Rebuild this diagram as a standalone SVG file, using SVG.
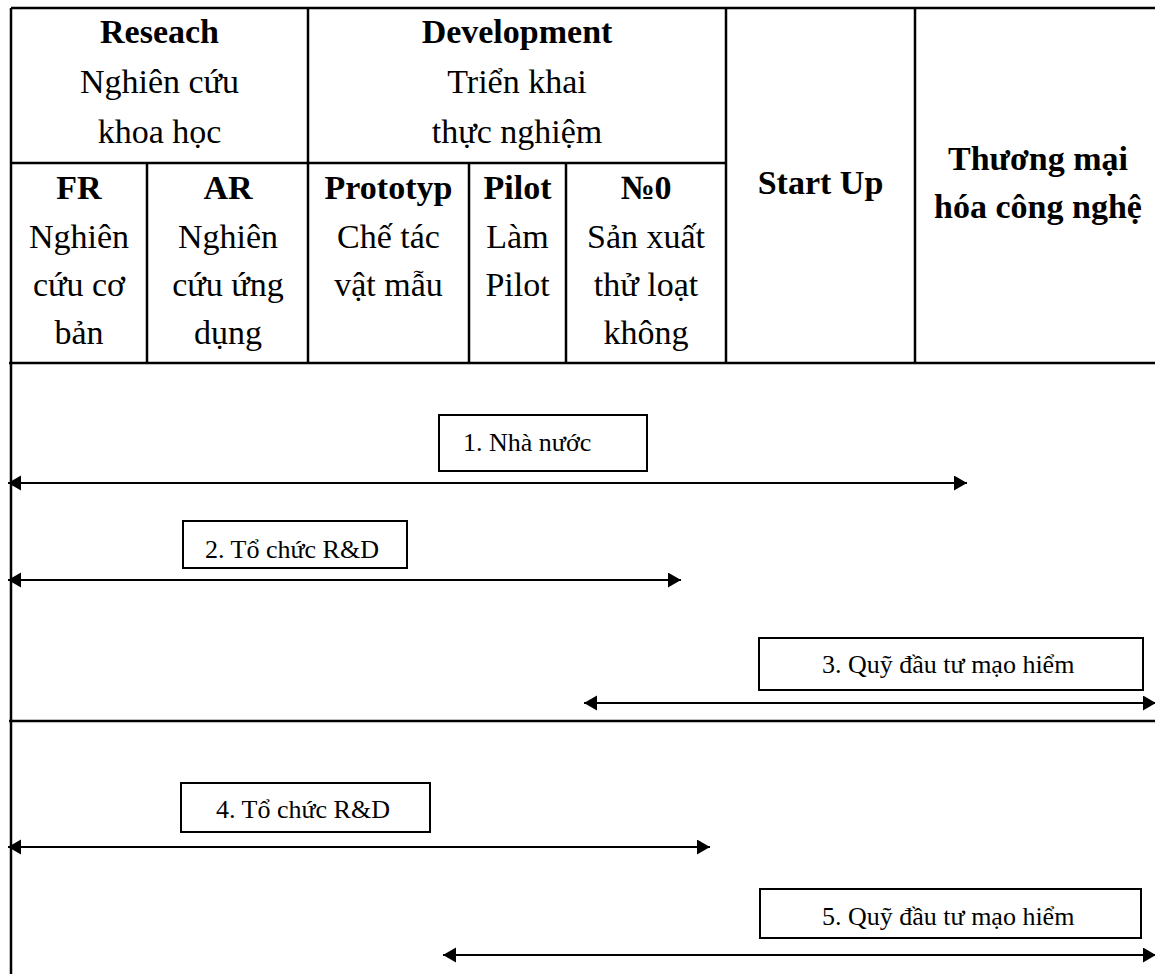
<svg xmlns="http://www.w3.org/2000/svg" width="1155" height="974" viewBox="0 0 1155 974">
<style>
.t{font-family:"Liberation Serif","Times New Roman",serif;font-size:34px;fill:#000;text-anchor:middle}
.b{font-weight:bold}
.s{font-family:"Liberation Serif","Times New Roman",serif;font-size:26px;fill:#000}
.g{stroke:#000;stroke-width:2.5;fill:none}
.box{stroke:#000;stroke-width:2;fill:#fff}
.ar{stroke:#000;stroke-width:2;fill:none;marker-start:url(#ah);marker-end:url(#ah)}
</style>
<defs>
<marker id="ah" markerUnits="userSpaceOnUse" markerWidth="14" markerHeight="16" refX="13" refY="7.5" orient="auto-start-reverse" viewBox="0 0 14 16">
<path d="M0,0 L13,7.5 L0,15 z" fill="#000"/>
</marker>
</defs>
<rect width="1155" height="974" fill="#fff"/>
<g id="grid">
<path class="g" d="M11,8 H1155 M11,8 V974 M11,163 H726 M9,363 H1155 M9,721 H1155 M147,163 V363 M308,8 V363 M469,163 V363 M566,163 V363 M726,8 V363 M915,8 V363"/>
</g>
<g id="research">
<text class="t b" x="159.5" y="43">Reseach</text>
<text class="t" x="159.5" y="93">Nghiên cứu</text>
<text class="t" x="159.5" y="143">khoa học</text>
</g>
<g id="development">
<text class="t b" x="517" y="43">Development</text>
<text class="t" x="517" y="93">Triển khai</text>
<text class="t" x="517" y="143">thực nghiệm</text>
</g>
<g id="fr">
<text class="t b" x="79" y="199">FR</text>
<text class="t" x="79" y="248">Nghiên</text>
<text class="t" x="79" y="296">cứu cơ</text>
<text class="t" x="79" y="344">bản</text>
</g>
<g id="ar">
<text class="t b" x="228" y="199">AR</text>
<text class="t" x="228" y="248">Nghiên</text>
<text class="t" x="228" y="296">cứu ứng</text>
<text class="t" x="228" y="344">dụng</text>
</g>
<g id="prototyp">
<text class="t b" x="388.5" y="199">Prototyp</text>
<text class="t" x="388.5" y="248">Chế tác</text>
<text class="t" x="388.5" y="296">vật mẫu</text>
</g>
<g id="pilot">
<text class="t b" x="517.5" y="199">Pilot</text>
<text class="t" x="517.5" y="248">Làm</text>
<text class="t" x="517.5" y="296">Pilot</text>
</g>
<g id="no0">
<text class="t b" x="646" y="199">№0</text>
<text class="t" x="646" y="248">Sản xuất</text>
<text class="t" x="646" y="296">thử loạt</text>
<text class="t" x="646" y="344">không</text>
</g>
<g id="startup">
<text class="t b" x="820.5" y="194">Start Up</text>
</g>
<g id="thuongmai">
<text class="t b" x="1038" y="170">Thương mại</text>
<text class="t b" x="1038" y="218">hóa công nghệ</text>
</g>
<g id="connectors">
<line class="ar" x1="8" y1="483" x2="967" y2="483"/>
<line class="ar" x1="8" y1="580" x2="681" y2="580"/>
<line class="ar" x1="584" y1="703" x2="1156" y2="703"/>
<line class="ar" x1="8" y1="847" x2="710" y2="847"/>
<line class="ar" x1="443" y1="955" x2="1156" y2="955"/>
</g>
<g id="label1">
<rect class="box" x="439" y="415" width="208" height="56"/>
<text class="s" x="463" y="451">1. Nhà nước</text>
</g>
<g id="label2">
<rect class="box" x="183" y="521" width="224" height="47"/>
<text class="s" x="205" y="558">2. Tổ chức R&amp;D</text>
</g>
<g id="label3">
<rect class="box" x="759" y="638" width="384" height="52"/>
<text class="s" x="822" y="673">3. Quỹ đầu tư mạo hiểm</text>
</g>
<g id="label4">
<rect class="box" x="181" y="783" width="249" height="49"/>
<text class="s" x="216" y="818">4. Tổ chức R&amp;D</text>
</g>
<g id="label5">
<rect class="box" x="760" y="889" width="381" height="49"/>
<text class="s" x="822" y="925">5. Quỹ đầu tư mạo hiểm</text>
</g>
</svg>
